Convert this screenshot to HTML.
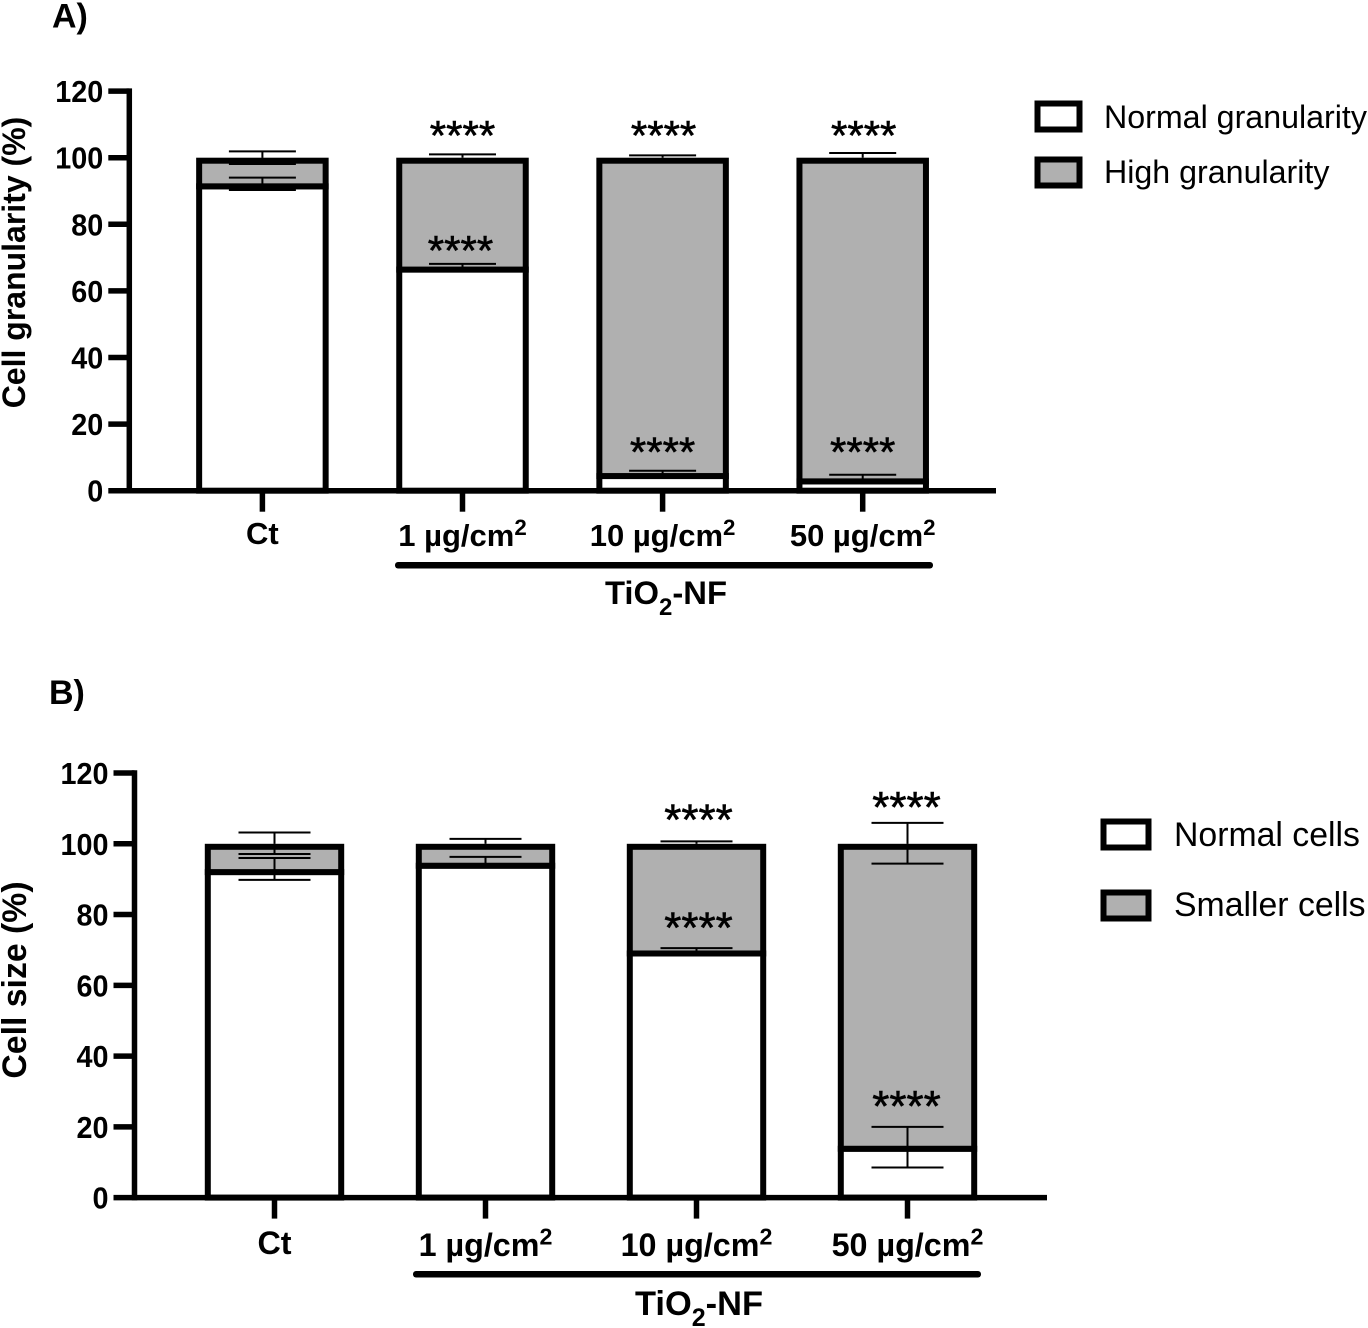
<!DOCTYPE html>
<html lang="en">
<head>
<meta charset="utf-8">
<title>Cell granularity and cell size</title>
<style>
html,body{margin:0;padding:0;background:#fff;}
svg{display:block;font-family:"Liberation Sans",sans-serif;}
text{fill:#000;}
.b{font-weight:bold;}
</style>
</head>
<body>
<svg id="chart" xmlns="http://www.w3.org/2000/svg" width="1368" height="1328" viewBox="0 0 1368 1328">
  <rect x="0" y="0" width="1368" height="1328" fill="#fff"/>
  <g id="panel-a"></g>
  <g id="panel-b"></g>

  <text class="b" x="52" y="27.5" font-size="34">A)</text>
  <text class="b" x="49" y="704" font-size="34">B)</text>

  <text class="b" font-size="32" text-anchor="middle" transform="translate(25,262.5) rotate(-90)">Cell granularity (%)</text>
  <text class="b" font-size="33.8" text-anchor="middle" transform="translate(26,980) rotate(-90)">Cell size (%)</text>

  <g>
    <rect x="1037.5" y="103.5" width="42" height="26" fill="#fff" stroke="#000" stroke-width="6"/>
    <text x="1104" y="128" font-size="32.2">Normal granularity</text>
    <rect x="1037.5" y="159.5" width="42" height="26" fill="#b0b0b0" stroke="#000" stroke-width="6"/>
    <text x="1104" y="183" font-size="32.2">High granularity</text>
  </g>
  <g>
    <rect x="1103.5" y="821.5" width="45" height="26" fill="#fff" stroke="#000" stroke-width="6"/>
    <text x="1174" y="846" font-size="33.8">Normal cells</text>
    <rect x="1103.5" y="892.5" width="45" height="26" fill="#b0b0b0" stroke="#000" stroke-width="6"/>
    <text x="1174" y="916" font-size="33.8">Smaller cells</text>
  </g>

  <rect x="395" y="562" width="538" height="6.5" rx="3" fill="#000"/>
  <text class="b" x="666" y="604" font-size="32.8" text-anchor="middle">TiO<tspan font-size="24" dy="11">2</tspan><tspan dy="-11">-NF</tspan></text>
  <rect x="413" y="1271" width="568" height="6.5" rx="3" fill="#000"/>
  <text class="b" x="699" y="1315" font-size="34.4" text-anchor="middle">TiO<tspan font-size="25" dy="11">2</tspan><tspan dy="-11">-NF</tspan></text>
</svg>

<script>
/* shared axis values */
const yTicks = [0, 20, 40, 60, 80, 100, 120];
const categories = ['Ct', '1 µg/cm', '10 µg/cm', '50 µg/cm'];
const categoryExponents = ['', '2', '2', '2'];

/* panel A: cell granularity (%) */
const aNormal = [91.4, 66.4, 4.4, 2.8];
const aHigh = [8.6, 33.6, 95.6, 97.2];
const aNormalErrUp = [2.6, 1.7, 1.6, 2];
const aNormalErrDown = [1.1, 0, 0, 0];
const aHighErrUp = [1.9, 1, 0.7, 1.4];
const aHighErrDown = [1.9, 0, 0, 0];
const aStarsNormal = [null, 73.5, 13, 13];
const aStarsHigh = [null, 108, 108, 108];

/* panel B: cell size (%) */
const bNormal = [92, 93.8, 69, 13.8];
const bHigh = [8, 6.2, 31, 86.2];
const bNormalErrUp = [4, 2.5, 1.5, 6.2];
const bNormalErrDown = [2.2, 0, 0, 5.3];
const bHighErrUp = [3.2, 1.4, 0.7, 5.9];
const bHighErrDown = [2.9, 0, 0, 5.6];
const bStarsNormal = [null, null, 77.5, 27];
const bStarsHigh = [null, null, 108, 111.5];

const SVGNS = 'http://www.w3.org/2000/svg';

function addLine(parent, name, x1, y1, x2, y2, width) {
  const el = document.createElementNS(SVGNS, 'line');
  
  
  el.setAttribute('x1', x1);
  el.setAttribute('y1', y1);
  el.setAttribute('x2', x2);
  el.setAttribute('y2', y2);
  el.setAttribute('stroke', '#000');
  el.setAttribute('stroke-width', width);
  parent.appendChild(el);
}

function addRect(parent, name, x, y, w, h, fill, stroke) {
  const el = document.createElementNS(SVGNS, 'rect');
  
  
  el.setAttribute('x', x);
  el.setAttribute('y', y);
  el.setAttribute('width', w);
  el.setAttribute('height', Math.max(h, 0));
  el.setAttribute('fill', fill);
  if (stroke) {
    el.setAttribute('stroke', '#000');
    el.setAttribute('stroke-width', stroke);
  }
  parent.appendChild(el);
}

function addText(parent, name, x, y, size, anchor, bold, str, exp, fitWidth) {
  const el = document.createElementNS(SVGNS, 'text');
  
  
  el.setAttribute('x', x);
  el.setAttribute('y', y);
  el.setAttribute('font-size', size);
  el.setAttribute('text-anchor', anchor);
  if (bold) el.setAttribute('font-weight', 'bold');
  if (fitWidth) {
    el.setAttribute('textLength', fitWidth);
    el.setAttribute('lengthAdjust', 'spacingAndGlyphs');
  }
  el.appendChild(document.createTextNode(str));
  if (exp) {
    const sup = document.createElementNS(SVGNS, 'tspan');
    sup.setAttribute('font-size', size * 0.72);
    sup.setAttribute('dy', -size * 0.36);
    sup.textContent = exp;
    el.appendChild(sup);
  }
  parent.appendChild(el);
  return el;
}

function addStars(parent, name, x, y, size) {
  const el = addText(parent, name, x, y, size, 'middle', false, '****');
  el.setAttribute('stroke', '#000');
  el.setAttribute('stroke-width', '0.6');
}

function errorBar(parent, name, cx, capHalf, yScale, from, to) {
  if (from === to) return;
  addLine(parent, name + '-stem', cx, yScale(from), cx, yScale(to), 2);
  addLine(parent, name + '-cap', cx - capHalf, yScale(to), cx + capHalf, yScale(to), 2);
}

function drawPanel(g, cfg) {
  const y = v => cfg.y0 - v * cfg.yPerUnit;
  const x = i => cfg.x0 + i * cfg.xStep;
  const inset = 3;

  categories.forEach((cat, i) => {
    const n = cfg.normal[i];
    const top = n + cfg.high[i];
    const left = x(i) - cfg.barW / 2;
    addRect(g, 'bar-normal-' + i, left, y(n), cfg.barW, y(0) - y(n), '#fff', 6);
    addRect(g, 'bar-high-' + i, left, y(top) + inset, cfg.barW, y(n) - y(top) - inset, '#b0b0b0', 6);
  });

  categories.forEach((cat, i) => {
    const n = cfg.normal[i];
    const top = n + cfg.high[i];
    errorBar(g, 'error-normal-up-' + i, x(i), cfg.capHalf, y, n, n + cfg.nUp[i]);
    errorBar(g, 'error-normal-down-' + i, x(i), cfg.capHalf, y, n, n - cfg.nDown[i]);
    errorBar(g, 'error-high-up-' + i, x(i), cfg.capHalf, y, top, top + cfg.hUp[i]);
    errorBar(g, 'error-high-down-' + i, x(i), cfg.capHalf, y, top, top - cfg.hDown[i]);
    if (cfg.starsN[i] !== null) {
      addStars(g, 'significance-normal-' + i, x(i) + cfg.starDxN[i], y(cfg.starsN[i]) + 19, cfg.starSize);
    }
    if (cfg.starsH[i] !== null) {
      addStars(g, 'significance-high-' + i, x(i) + cfg.starDxH[i], y(cfg.starsH[i]) + 19, cfg.starSize);
    }
  });

  addLine(g, 'y-axis-line', cfg.axisX, y(120) - 2.75, cfg.axisX, y(0) + 2.75, 5.5);
  addLine(g, 'x-axis-line', cfg.axisX, y(0), cfg.axisEnd, y(0), 5.5);

  yTicks.forEach(t => {
    const label = String(t);
    addLine(g, 'y-tick-' + t, cfg.axisX - cfg.tickLen, y(t), cfg.axisX, y(t), 5.5);
    addText(g, 'y-tick-label-' + t, cfg.axisX - cfg.tickLen - 5, y(t) + 11, 31, 'end', true, label, '', label.length * 16);
  });

  categories.forEach((cat, i) => {
    addLine(g, 'x-tick-' + i, x(i), y(0), x(i), y(0) + 21, 5.5);
    const ly = i === 0 ? cfg.catY - 2 : cfg.catY;
    addText(g, 'x-tick-label-' + i, x(i), ly, cfg.catSize, 'middle', true, cat, categoryExponents[i]);
  });
}

drawPanel(document.getElementById('panel-a'), {
  y0: 490.7, yPerUnit: 3.33, x0: 262.4, xStep: 200.1, barW: 126.5, capHalf: 33.5,
  axisX: 129.3, axisEnd: 996, tickLen: 21, catY: 546, catSize: 31, starSize: 42,
  starDxN: [0, -2, 0, 0], starDxH: [0, 0, 1, 1],
  normal: aNormal, high: aHigh, nUp: aNormalErrUp, nDown: aNormalErrDown,
  hUp: aHighErrUp, hDown: aHighErrDown, starsN: aStarsNormal, starsH: aStarsHigh
});

drawPanel(document.getElementById('panel-b'), {
  y0: 1197.6, yPerUnit: 3.538, x0: 274.5, xStep: 211, barW: 133.4, capHalf: 36,
  axisX: 134.5, axisEnd: 1047, tickLen: 21, catY: 1256, catSize: 32.3, starSize: 44,
  starDxN: [0, 0, 2, -1], starDxH: [0, 0, 2, -1],
  normal: bNormal, high: bHigh, nUp: bNormalErrUp, nDown: bNormalErrDown,
  hUp: bHighErrUp, hDown: bHighErrDown, starsN: bStarsNormal, starsH: bStarsHigh
});
</script>
</body>
</html>
